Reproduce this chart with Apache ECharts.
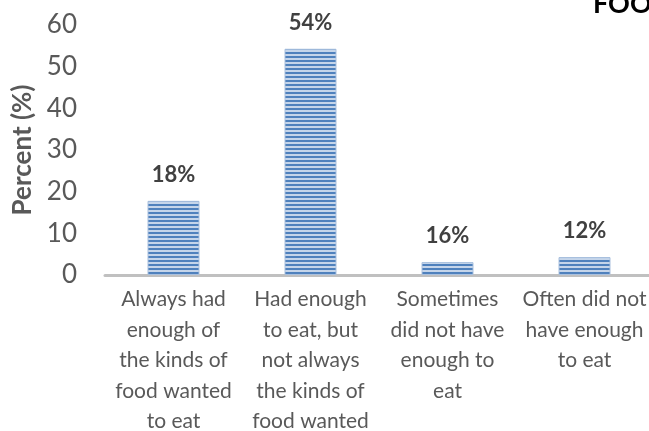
<!DOCTYPE html>
<html>
<head>
<meta charset="utf-8">
<script src="https://cdn.jsdelivr.net/npm/echarts@6/dist/echarts.min.js"></script>
<style>
html,body{margin:0;padding:0;background:#fff;}
#chart{width:649px;height:431px;}
</style>
</head>
<body>
<div id="chart"></div>
<script>
var categories = [
  "Always had\nenough of\nthe kinds of\nfood wanted\nto eat",
  "Had enough\nto eat, but\nnot always\nthe kinds of\nfood wanted",
  "Sometimes\ndid not have\nenough to\neat",
  "Often did not\nhave enough\nto eat"
];
var values = [17.8, 54.3, 3.1, 4.3];
var valueLabels = ["18%", "54%", "16%", "12%"];
var yTicks = [0, 10, 20, 30, 40, 50, 60];
var titleText = "FOOD INSECURITY";

var pat = document.createElement('canvas');
pat.width = 4; pat.height = 4;
var pc = pat.getContext('2d');
pc.fillStyle = '#c5d5ea'; pc.fillRect(0, 0, 4, 4);
pc.fillStyle = '#4f81bd'; pc.fillRect(0, 0, 4, 2);

var chart = echarts.init(document.getElementById('chart'), null, {renderer: 'canvas'});
var FONT = 'Lato, "Noto Sans", sans-serif';
chart.setOption({
  animation: false,
  backgroundColor: '#fff',
  grid: {left: 105, top: 25, bottom: 156, width: 548, containLabel: false, outerBoundsMode: 'none'},
  graphic: [{
    type: 'text', left: 593, top: -9,
    style: {text: titleText, font: 'bold 27px ' + FONT, fill: '#000'}
  }],
  xAxis: {
    type: 'category',
    data: categories,
    axisLine: {lineStyle: {color: '#c0c0c0', width: 3}},
    axisTick: {show: false},
    axisLabel: {color: '#595959', fontSize: 21, fontFamily: FONT, lineHeight: 30.5, margin: 9, interval: 0, align: 'center'}
  },
  yAxis: {
    type: 'value',
    min: yTicks[0], max: yTicks[yTicks.length - 1], interval: 10,
    name: 'Percent (%)',
    nameLocation: 'middle',
    nameGap: 65,
    nameRotate: 90,
    nameTextStyle: {color: '#595959', fontSize: 26, fontWeight: 'bold', fontFamily: FONT},
    axisLine: {show: false},
    axisTick: {show: false},
    splitLine: {show: false},
    axisLabel: {color: '#595959', fontSize: 26, fontFamily: FONT, margin: 28}
  },
  series: [{
    type: 'bar',
    data: values,
    barWidth: 52,
    itemStyle: {color: {image: pat, repeat: 'repeat'}, borderColor: '#a9c0de', borderWidth: 1},
    label: {
      show: true, position: 'top', distance: 15,
      formatter: function (p) { return valueLabels[p.dataIndex]; },
      color: '#404040', fontSize: 22, fontWeight: 'bold', fontFamily: FONT
    }
  }]
});
</script>
</body>
</html>
